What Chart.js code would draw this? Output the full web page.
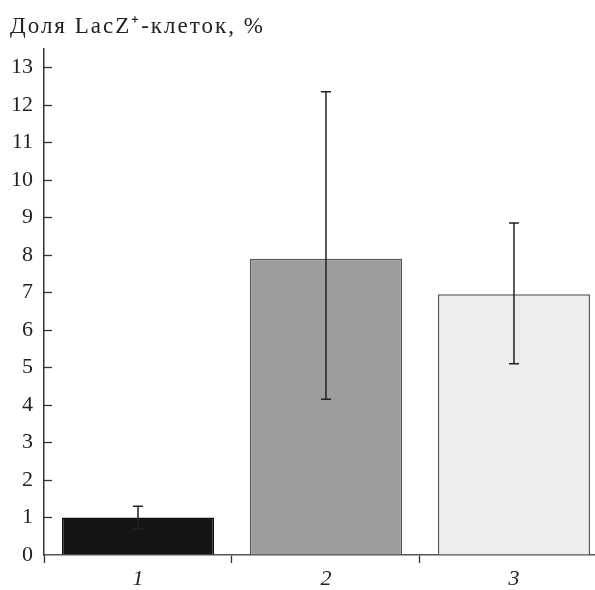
<!DOCTYPE html>
<html><head><meta charset="utf-8">
<script src="https://cdn.jsdelivr.net/npm/chart.js@4"></script>
<style>html,body{margin:0;padding:0;background:#fff}</style>
</head><body>
<canvas id="c" width="595" height="590"></canvas>
<script>
const categories = ['1', '2', '3'];
const values = [1.0, 7.9, 6.95];
const errLow = [0.7, 4.15, 5.1];
const errHigh = [1.3, 12.35, 8.85];
const yTickValues = [0,1,2,3,4,5,6,7,8,9,10,11,12,13];
const titleText = 'Доля LacZ\u207A-клеток, %';
const barColors = ['#151515', '#9d9d9f', '#ededf0'];
const barBorders = ['#111111', '#555555', '#555555'];

const xPos = categories.map((c, i) => i + 1);

const errorBars = {
  id: 'errorBars',
  afterDatasetsDraw(chart) {
    const ctx = chart.ctx, y = chart.scales.y;
    const meta = chart.getDatasetMeta(0);
    ctx.save();
    ctx.strokeStyle = '#222';
    ctx.lineWidth = 1.5;
    meta.data.forEach((bar, i) => {
      const x = bar.x;
      const yl = y.getPixelForValue(errLow[i]);
      const yh = y.getPixelForValue(errHigh[i]);
      ctx.beginPath();
      ctx.moveTo(x, yl); ctx.lineTo(x, yh);
      ctx.moveTo(x - 5, yh); ctx.lineTo(x + 5, yh);
      ctx.moveTo(x - 5, yl); ctx.lineTo(x + 5, yl);
      ctx.stroke();
    });
    ctx.restore();
  }
};

const innerTicks = {
  id: 'innerTicks',
  afterDraw(chart) {
    const ctx = chart.ctx, y = chart.scales.y, left = chart.chartArea.left;
    ctx.save();
    ctx.strokeStyle = '#333';
    ctx.lineWidth = 1.3;
    yTickValues.forEach(v => {
      if (v === 0) return;
      const py = Math.round(y.getPixelForValue(v)) + 0.5;
      ctx.beginPath();
      ctx.moveTo(left, py); ctx.lineTo(left + 8, py);
      ctx.stroke();
    });
    ctx.restore();
  }
};

const titleSpacing = {
  id: 'titleSpacing',
  beforeDraw(chart) {
    const tb = chart.titleBlock;
    if (tb && !tb._spaced) {
      const orig = tb.draw;
      tb.draw = function (...args) {
        const ctx = chart.ctx;
        ctx.save();
        ctx.letterSpacing = '2px';
        orig.apply(this, args);
        ctx.letterSpacing = '0px';
        ctx.restore();
        ctx.letterSpacing = '0px';
      };
      tb._spaced = true;
    }
  }
};

new Chart(document.getElementById('c'), {
  type: 'bar',
  data: {
    datasets: [{
      data: xPos.map((x, i) => ({ x: x, y: values[i] })),
      backgroundColor: barColors,
      borderColor: barBorders,
      borderWidth: 1.5,
      barPercentage: 0.81,
      categoryPercentage: 1.0
    }]
  },
  options: {
    responsive: false,
    animation: false,
    layout: { padding: { left: 10, right: 0, top: 0, bottom: 0 } },
    plugins: {
      legend: { display: false },
      tooltip: { enabled: false },
      title: {
        display: true,
        text: titleText,
        align: 'start',
        color: '#222',
        font: { family: 'Liberation Serif', size: 23, weight: 'normal' },
        padding: { top: 13, bottom: 8 }
      }
    },
    scales: {
      x: {
        type: 'linear',
        min: 0.5,
        max: 3.431,
        offset: false,
        afterBuildTicks(scale) { scale.ticks = xPos.map(v => ({ value: v })); },
        afterFit(scale) { scale.height = 35; },
        ticks: {
          callback: (v) => categories[Math.round(v) - 1],
          color: '#222',
          padding: 3,
          maxRotation: 0,
          font: { family: 'Liberation Serif', size: 22, style: 'italic' }
        },
        grid: { drawOnChartArea: false, drawTicks: true, tickLength: 8, color: '#333', tickWidth: 1.3 },
        border: { display: true, color: '#555', width: 1.5 }
      },
      y: {
        min: 0,
        max: 13.5,
        afterBuildTicks(scale) { scale.ticks = yTickValues.map(v => ({ value: v })); },
        afterFit(scale) { scale.width = 34; },
        ticks: {
          color: '#222',
          padding: 11,
          font: { family: 'Liberation Serif', size: 22 }
        },
        grid: { display: true, drawOnChartArea: false, drawTicks: false },
        border: { display: true, color: '#333', width: 1.5 }
      }
    }
  },
  plugins: [errorBars, innerTicks, titleSpacing]
});
</script>
</body></html>
